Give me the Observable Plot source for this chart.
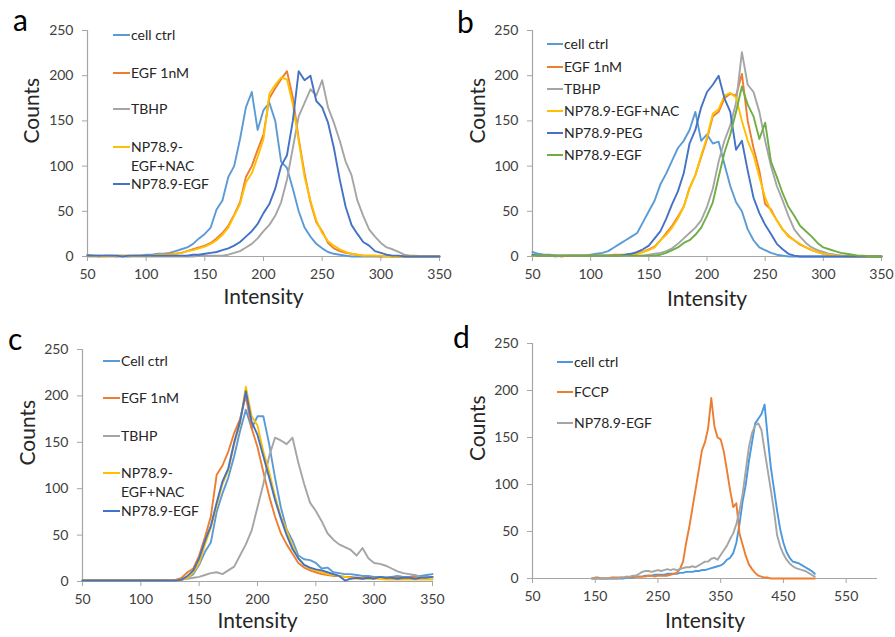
<!DOCTYPE html>
<html><head><meta charset="utf-8">
<script src="https://cdn.jsdelivr.net/npm/d3@7"></script>
<script src="https://cdn.jsdelivr.net/npm/@observablehq/plot@0.6"></script>
<style>
body{margin:0;background:#fff;font-family:Lato,"Open Sans",sans-serif;}
#fig{position:relative;width:895px;height:637px;overflow:hidden;background:#fff}
.panel{position:absolute}
.panel svg{overflow:visible;display:block}
.leg{position:absolute;font-size:14px;color:#262626;white-space:nowrap;line-height:19px;font-family:Lato,sans-serif}
.legline{position:absolute;height:2px}
.letter{position:absolute;font-size:30px;color:#000;line-height:1;font-family:Lato,sans-serif}
</style></head><body><div id="fig"></div><script>
// ---------- data ----------
const intensityABC = [50,55,60,65,70,75,80,85,90,95,100,105,110,115,120,125,130,135,140,145,150,155,160,165,170,175,180,185,190,195,200,205,210,215,220,225,230,235,240,245,250,255,260,265,270,275,280,285,290,295,300,305,310,315,320,325,330,335,340,345,350];
const intensityD = [145,150,155,160,165,170,175,180,185,190,195,200,205,210,215,220,225,230,235,240,245,250,255,260,265,270,275,280,285,290,295,300,305,310,315,320,325,330,335,340,345,350,355,360,365,370,375,380,385,390,395,400,405,410,415,420,425,430,435,440,445,450,455,460,465,470,475,480,485,490,495,500];

// panel a
const aCellCtrl = [2,1,1,1,1,1,1,0,1,1, 2,2,3,3,4,6,8,10,14,20, 25,32,52,62,88,100,130,165,182,140, 162,170,150,105,98,75,50,32,22,14, 9,5,3,2,1,0,0,0,0,0, 0,0,0,0,0,0,0,0,0,0, 0];
const aEGF      = [1,1,0,1,1,0,1,1,1,1, 1,1,2,2,3,3,4,6,8,10, 12,15,20,26,34,46,60,88,100,118, 135,175,186,196,205,176,130,92,60,38, 28,15,9,6,4,3,2,1,1,1, 0,1,0,0,0,0,0,0,0,0, 0];
const aTBHP     = [0,0,0,0,0,0,0,0,0,0, 0,0,0,0,0,0,0,0,0,1, 1,1,1,1,2,4,6,10,14,20, 28,35,45,60,85,120,155,170,185,178, 195,165,148,128,105,90,62,45,30,22, 15,10,8,5,2,1,1,0,0,0, 0];
const aNAC      = [1,1,1,0,1,1,1,1,1,1, 1,1,2,2,2,3,4,6,7,9, 11,14,18,24,32,45,58,82,92,110, 130,180,190,198,196,168,128,88,62,40, 26,17,12,8,5,3,2,1,1,1, 1,0,0,0,0,0,0,0,0,0, 0];
const aNPEGF    = [1,1,1,1,1,1,0,1,1,1, 1,1,1,1,1,1,1,1,2,2, 3,4,5,7,9,12,16,22,28,36, 48,58,75,100,112,150,205,195,200,172, 165,148,120,85,55,35,25,16,12,6, 4,2,1,1,0,0,0,0,0,0, 0];

// panel b
const bCellCtrl = [5,3,2,2,1,1,1,1,1,1, 2,3,4,6,10,14,18,22,26,38, 50,62,80,92,106,120,128,140,160,128, 135,125,127,102,78,60,50,30,18,10, 7,4,2,1,0,0,0,0,0,0, 0,0,0,0,0,0,0,0,0,0, 0];
const bEGF      = [1,1,1,1,1,0,1,1,1,1, 1,1,1,1,2,2,2,3,4,5, 8,11,18,26,34,44,55,76,90,110, 130,155,160,175,180,178,202,150,120,95, 58,52,40,30,23,18,13,10,7,5, 3,2,1,1,0,0,0,0,0,0, 0];
const bTBHP     = [1,1,1,1,0,1,1,1,1,1, 1,1,1,1,1,1,1,1,1,1, 2,3,4,6,9,14,20,26,32,40, 55,75,105,128,145,170,226,190,182,160, 128,100,78,62,45,30,22,15,10,7, 5,3,2,1,1,0,0,0,0,0, 0];
const bNAC      = [1,1,1,1,1,1,1,1,1,1, 1,1,1,1,1,1,2,2,3,5, 7,10,18,24,32,42,55,75,90,112, 132,158,163,178,181,176,150,128,112,88, 65,50,40,30,22,18,14,10,7,5, 3,2,1,1,0,0,0,0,0,0, 0];
const bPEG      = [2,1,1,1,1,1,1,1,1,1, 1,1,1,1,1,1,2,3,5,8, 12,20,28,42,58,72,92,125,140,165, 182,190,200,175,160,118,128,95,65,48, 35,25,14,8,3,1,0,0,0,0, 0,0,0,0,0,0,0,0,0,0, 0];
const bNPEGF    = [1,1,1,1,1,1,1,1,1,1, 1,1,1,1,1,1,1,1,1,1, 1,1,2,4,7,10,15,18,24,32, 45,60,88,115,135,160,188,168,155,130, 148,105,88,70,55,45,34,28,22,15, 10,8,6,4,3,2,1,1,0,0, 0];

// panel c
const cCellCtrl = [1,1,1,1,1,1,1,1,1,1, 1,1,1,1,1,1,1,2,4,8, 18,32,42,75,95,112,135,162,185,165, 178,178,148,112,80,56,44,28,24,23, 20,14,15,10,9,8,8,7,6,6, 5,5,4,5,6,5,5,6,6,7, 8];
const cEGF      = [1,1,1,1,1,1,1,1,1,1, 1,1,1,1,1,1,2,4,10,14, 28,48,70,115,125,140,160,175,200,165, 145,118,92,70,52,40,30,20,15,12, 10,8,7,6,6,5,5,4,4,4, 4,4,4,4,4,4,4,5,5,5, 5];
const cTBHP     = [1,1,1,1,1,1,1,1,1,1, 1,1,1,1,1,1,1,2,3,4, 5,7,9,10,8,12,16,28,40,55, 80,105,135,155,152,148,155,128,105,85, 76,65,52,45,40,37,34,28,36,25, 20,19,17,14,11,9,8,7,5,5, 4];
const cNAC      = [1,1,1,1,1,1,1,1,1,1, 1,1,1,1,1,1,1,2,4,10, 20,40,58,82,105,120,148,170,210,178, 168,140,118,92,70,55,38,25,18,14, 12,10,8,7,6,5,4,3,3,3, 3,3,2,2,2,2,2,2,2,2, 2];
const cNPEGF    = [1,1,1,1,1,1,1,1,1,1, 1,1,1,1,1,1,1,2,6,12, 25,44,60,85,108,122,150,172,205,172, 158,135,112,88,68,50,35,25,18,15, 13,12,10,8,6,1,3,4,3,4, 3,5,4,4,3,4,4,3,4,4, 5];

// panel d
const dCellCtrl = [0,0,0,0,0,0,0,0,0,0,0, 1,1,1,2,2,2,3,3,3,4, 4,4,4,5,5,5,5,6,6,7, 7,7,8,8,9,9,10,11,12,13, 14,16,20,22,27,38,58,82,100,125, 145,165,170,175,185,150,118,95,72,52, 38,28,22,18,17,16,14,12,10,8, 5];
const dFCCP     = [0,1,1,0,0,0,1,1,1,1,1, 2,1,2,2,2,2,2,3,3,2, 3,3,3,3,4,5,6,10,18,38, 55,75,95,115,136,145,160,192,162,150, 148,135,115,94,76,80,48,36,24,15, 10,6,3,2,1,1,0,0,0,0, 0,0,0,0,0,0,0,0,0,0, 0];
const dNPEGF    = [0,0,0,0,0,0,0,0,0,1,1, 2,2,3,3,5,7,8,8,7,8, 9,8,9,10,9,10,9,10,11,12, 12,13,12,14,16,18,18,21,22,20, 25,30,35,42,48,58,72,90,115,140, 155,163,165,158,136,115,94,72,46,34, 26,20,16,13,11,10,9,8,6,4, 2];

const countTicks = [0,50,100,150,200,250];
const xTicksABC = [50,100,150,200,250,300,350];
const xTicksD = [50,150,250,350,450,550];

const labelsA = ["cell ctrl","EGF 1nM","TBHP","NP78.9-\nEGF+NAC","NP78.9-EGF"];
const labelsB = ["cell ctrl","EGF 1nM","TBHP","NP78.9-EGF+NAC","NP78.9-PEG","NP78.9-EGF"];
const labelsC = ["Cell ctrl","EGF 1nM","TBHP","NP78.9-\nEGF+NAC","NP78.9-EGF"];
const labelsD = ["cell ctrl","FCCP","NP78.9-EGF"];

// ---------- styling ----------
const C = {lb:"#5b9bd5", or:"#ed7d31", gr:"#a5a5a5", ye:"#ffc000", db:"#4472c4", gn:"#70ad47", bl:"#4a98e0"};
const fig = document.getElementById("fig");

function makePanel(p) {
  const rows = [];
  p.series.forEach((vals, k) => vals.forEach((v, i) => rows.push({x: p.intens[i], y: v, k})));
  const chart = Plot.plot({
    width: p.width, height: p.height,
    marginLeft: p.ml, marginRight: p.mr, marginTop: p.mt, marginBottom: p.mb,
    style: {background: "transparent", fontFamily: "Lato, sans-serif", fontSize: "14px", color: "#404040", overflow: "visible"},
    x: {domain: p.xDomain},
    y: {domain: [0, 250]},
    marks: [
      Plot.axisX({ticks: p.xTicks, tickSize: 5, tickPadding: 8, stroke: "#a6a6a6", fill: "#404040", label: null, fontSize: 14}),
      Plot.axisY({ticks: countTicks, tickSize: 5, tickPadding: 9, stroke: "#a6a6a6", fill: "#404040", label: null, fontSize: 14}),
      Plot.ruleY([0], {stroke: "#a6a6a6", strokeWidth: 1.2}),
      Plot.ruleX([p.xDomain[0]], {stroke: "#a6a6a6", strokeWidth: 1.2}),
      ...p.series.map((vals, k) => Plot.line(rows.filter(r => r.k === k), {x: "x", y: "y", stroke: p.colors[k], strokeWidth: 1.9})),
      Plot.text(["Intensity"], {frameAnchor: "bottom", dy: p.xlabDy, fontSize: 21, fill: "#262626"}),
      Plot.text(["Counts"], {frameAnchor: "left", dx: p.ylabDx, rotate: -90, fontSize: 21, fill: "#262626"})
    ]
  });
  const div = document.createElement("div");
  div.className = "panel";
  div.style.left = p.left + "px"; div.style.top = p.top + "px";
  div.appendChild(chart);
  fig.appendChild(div);

  // letter
  const L = document.createElement("div");
  L.className = "letter"; L.textContent = p.letter;
  L.style.left = p.letterX + "px"; L.style.top = p.letterY + "px";
  fig.appendChild(L);

  // legend
  p.labels.forEach((lab, k) => {
    const y = p.legY[k];
    const ln = document.createElement("div");
    ln.className = "legline";
    ln.style.left = p.legX0 + "px"; ln.style.width = (p.legX1 - p.legX0) + "px";
    ln.style.top = (y - 1) + "px"; ln.style.background = p.colors[k];
    fig.appendChild(ln);
    const t = document.createElement("div");
    t.className = "leg";
    t.style.left = (p.legX1 + 1) + "px"; t.style.top = (y - 10) + "px";
    lab.split("\n").forEach((s, j) => {
      if (j) t.appendChild(document.createElement("br"));
      t.appendChild(document.createTextNode(s));
    });
    fig.appendChild(t);
  });
}

makePanel({left: 0, top: 0, width: 447, height: 318, ml: 87, mr: 8, mt: 30, mb: 62,
  xDomain: [50, 350], xTicks: xTicksABC, intens: intensityABC,
  series: [aCellCtrl, aEGF, aTBHP, aNAC, aNPEGF], colors: [C.lb, C.or, C.gr, C.ye, C.db],
  xlabDy: 47, ylabDx: -55, letter: "a", letterX: 13, letterY: 4,
  labels: labelsA, legY: [35, 73, 109, 147, 184], legX0: 113, legX1: 130});

makePanel({left: 445, top: 0, width: 450, height: 318, ml: 87, mr: 14, mt: 30, mb: 62,
  xDomain: [50, 350], xTicks: xTicksABC, intens: intensityABC,
  series: [bCellCtrl, bEGF, bTBHP, bNAC, bPEG, bNPEGF], colors: [C.lb, C.or, C.gr, C.ye, C.db, C.gn],
  xlabDy: 49, ylabDx: -54, letter: "b", letterX: 457, letterY: 6,
  labels: labelsB, legY: [44, 67, 89, 111, 133, 155], legX0: 547, legX1: 563});

makePanel({left: 0, top: 318, width: 447, height: 319, ml: 82, mr: 15, mt: 31, mb: 56,
  xDomain: [50, 350], xTicks: xTicksABC, intens: intensityABC,
  series: [cCellCtrl, cEGF, cTBHP, cNAC, cNPEGF], colors: [C.lb, C.or, C.gr, C.ye, C.db],
  xlabDy: 46, ylabDx: -54, letter: "c", letterX: 8, letterY: 323,
  labels: labelsC, legY: [361, 398, 436, 473, 511], legX0: 103, legX1: 120});

makePanel({left: 445, top: 318, width: 450, height: 319, ml: 87, mr: 18, mt: 25, mb: 59,
  xDomain: [50, 600], xTicks: xTicksD, intens: intensityD,
  series: [dCellCtrl, dFCCP, dNPEGF], colors: [C.bl, C.or, C.gr],
  xlabDy: 49, ylabDx: -54, letter: "d", letterX: 453, letterY: 321,
  labels: labelsD, legY: [362, 392, 423], legX0: 557, legX1: 573});
</script></body></html>
